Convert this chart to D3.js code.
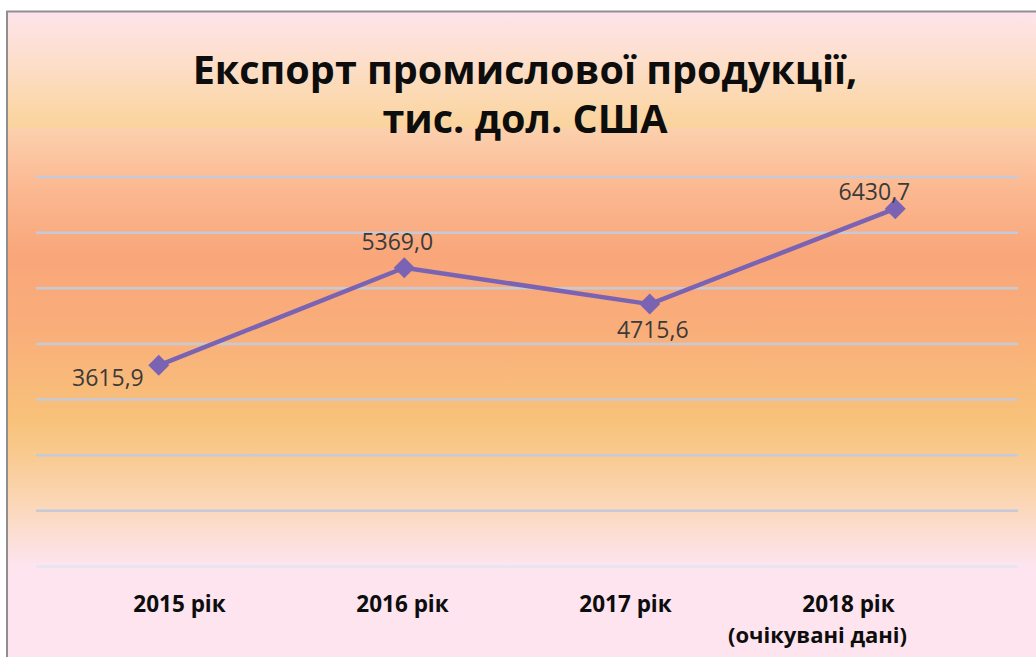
<!DOCTYPE html>
<html>
<head>
<meta charset="utf-8">
<script src="https://cdn.jsdelivr.net/npm/d3@7"></script>
<style>
    body { margin: 0; background: #fff; }
    svg { display: block; }
</style>
</head>
<body>
<svg id="chart"></svg>
<script>
// chart data
let years = ["2015 рік", "2016 рік", "2017 рік", "2018 рік"];
let yearNotes = ["", "", "", "(очікувані дані)"];
let exportValues = [3615.9, 5369.0, 4715.6, 6430.7];
let yTicks = [0, 1000, 2000, 3000, 4000, 5000, 6000, 7000];
let titleLines = ["Експорт промислової продукції,", "тис. дол. США"];

// where each value label sits relative to its point
let labelPlace = [
    {anchor: "end", dx: -15, dy: 21},
    {anchor: "middle", dx: -7, dy: -18},
    {anchor: "middle", dx: 3, dy: 34},
    {anchor: "end", dx: 15, dy: -9}
];

let width = 1036, height = 657;
let margin = {top: 177, right: 18, bottom: 91, left: 36};

let svg = d3.select("#chart")
    .attr("width", width)
    .attr("height", height);

// background gradient of the chart area
let defs = svg.append("defs");
let grad = defs.append("linearGradient")
    .attr("id", "bg")
    .attr("gradientUnits", "userSpaceOnUse")
    .attr("x1", 0).attr("y1", 11)
    .attr("x2", 0).attr("y2", 657);
let stops = [
    [11, "#fde4ec"], [50, "#fde0d2"], [90, "#fcdab6"], [127, "#fad49c"],
    [128, "#fcd0ae"], [190, "#fbb890"], [255, "#f9a67a"], [330, "#f9ae7a"],
    [420, "#f8c27a"], [450, "#f9c98c"], [500, "#fbd6b4"], [540, "#fcdfd8"],
    [565, "#fde4ee"], [657, "#fde4ef"]
];
grad.selectAll("stop").data(stops).enter().append("stop")
    .attr("offset", d => (d[0] - 11) / (657 - 11))
    .attr("stop-color", d => d[1]);

svg.append("rect")
    .attr("x", 6).attr("y", 11)
    .attr("width", width - 6).attr("height", height - 11)
    .attr("fill", "url(#bg)");

// frame (left + top edges visible)
svg.append("path")
    .attr("d", "M7," + height + "V11.5H" + width)
    .attr("fill", "none")
    .attr("stroke", "#8f8f8f")
    .attr("stroke-width", 2);

// scales
let x = d3.scalePoint()
    .domain(years)
    .range([margin.left, width - margin.right])
    .padding(0.5);

let y = d3.scaleLinear()
    .domain([0, 7000])
    .range([height - margin.bottom + 0.5, margin.top]);

// category labels sit on their own (slightly narrower) spread, as in the source
let xLab = d3.scalePoint()
    .domain(years)
    .range([68, 960])
    .padding(0.5);

// gridlines
svg.append("g")
    .selectAll("line")
    .data(yTicks)
    .enter().append("line")
    .attr("x1", margin.left)
    .attr("x2", width - margin.right)
    .attr("y1", d => y(d))
    .attr("y2", d => y(d))
    .attr("stroke", d => d === 0 ? "#e6e6f2" : "#c6cad8")
    .attr("stroke-width", 2.5);

// title
let title = svg.append("g")
    .attr("font-family", "'Open Sans', 'Noto Sans', sans-serif")
    .attr("font-weight", "bold")
    .attr("fill", "#0d0d0d")
    .attr("text-anchor", "middle");

title.selectAll("text")
    .data(titleLines)
    .enter().append("text")
    .attr("x", 525)
    .attr("y", (d, i) => 84 + i * 49)
    .attr("font-size", 38)
    .text(d => d);

// fit the first line to the width it has in the source
let firstLine = title.select("text").node();
let w = firstLine.getComputedTextLength();
title.selectAll("text").attr("font-size", 38 * 665 / w);

// category axis labels
let xAxis = svg.append("g")
    .attr("font-family", "'Open Sans', 'Noto Sans', sans-serif")
    .attr("font-weight", "bold")
    .attr("font-size", 22.5)
    .attr("fill", "#0d0d0d")
    .attr("text-anchor", "middle");

xAxis.selectAll("text.year")
    .data(years)
    .enter().append("text")
    .attr("class", "year")
    .attr("x", d => xLab(d))
    .attr("y", 612)
    .text(d => d);

xAxis.selectAll("text.note")
    .data(years.filter((d, i) => yearNotes[i] !== ""))
    .enter().append("text")
    .attr("class", "note")
    .attr("x", d => xLab(d) - 31)
    .attr("y", 643)
    .attr("font-size", 22)
    .text(d => yearNotes[years.indexOf(d)]);

// line
let line = d3.line()
    .x((d, i) => x(years[i]))
    .y(d => y(d));

svg.append("path")
    .datum(exportValues)
    .attr("d", line)
    .attr("fill", "none")
    .attr("stroke", "#7b63b3")
    .attr("stroke-width", 4.5)
    .attr("stroke-linejoin", "round");

// diamond markers
let diamond = d3.symbol().type(d3.symbolSquare).size(220);

svg.append("g")
    .selectAll("path")
    .data(exportValues)
    .enter().append("path")
    .attr("d", diamond)
    .attr("transform", (d, i) => "translate(" + x(years[i]) + "," + y(d) + ") rotate(45)")
    .attr("fill", "#7b63b3");

// value labels
let fmt = v => d3.format(".1f")(v).replace(".", ",");

svg.append("g")
    .attr("font-family", "'Open Sans', 'Noto Sans', sans-serif")
    .attr("font-size", 23)
    .attr("fill", "#3a3a3a")
    .selectAll("text")
    .data(exportValues)
    .enter().append("text")
    .attr("x", (d, i) => x(years[i]) + labelPlace[i].dx)
    .attr("y", (d, i) => y(d) + labelPlace[i].dy)
    .attr("text-anchor", (d, i) => labelPlace[i].anchor)
    .text(d => fmt(d));
</script>
</body>
</html>
